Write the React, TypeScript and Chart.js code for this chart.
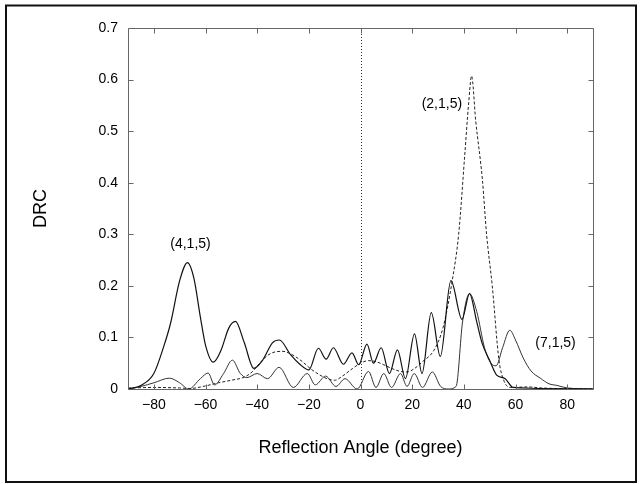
import React, { useEffect, useRef } from "react";
import { Chart, registerables } from "chart.js";

Chart.register(...registerables);

// ---------- data ----------
const X_TICKS = [-80, -60, -40, -20, 0, 20, 40, 60, 80];
const Y_TICKS = [0, 0.1, 0.2, 0.3, 0.4, 0.5, 0.6, 0.7];

// (4,1,5) solid
const ANGLE_415 = [-90, -85, -80, -76, -73.5, -70, -67, -64.5, -62, -60, -57, -54, -51, -48.4, -45, -41.3, -38, -34, -31.4, -27, -23.5, -20, -16.3, -13.3, -10.5, -6.6, -3.3, -0.7, 2.5, 5, 8, 11.2, 14.3, 17.4, 20.9, 23.8, 27.4, 30.9, 35, 39.3, 42.2, 45, 47, 50.2, 52.7, 56, 59, 62, 70, 90];
const DRC_415 = [0, 0.007, 0.03, 0.085, 0.128, 0.21, 0.245, 0.215, 0.14, 0.085, 0.052, 0.075, 0.118, 0.131, 0.09, 0.04, 0.055, 0.09, 0.095, 0.066, 0.048, 0.037, 0.079, 0.058, 0.08, 0.048, 0.07, 0.047, 0.087, 0.05, 0.08, 0.03, 0.076, 0.02, 0.107, 0.03, 0.148, 0.063, 0.21, 0.135, 0.185, 0.13, 0.09, 0.053, 0.027, 0.02, 0.003, 0.002, 0.001, 0];

// (2,1,5) dashed
const ANGLE_215 = [-90, -80, -70, -66, -60, -55, -50, -45, -42, -39, -36, -33, -30, -27, -23, -19, -16, -13, -10, -7, -3, 0, 3, 6, 9, 12, 15.5, 18, 21, 24, 28.4, 32, 35.5, 38, 40.3, 41.8, 43, 44.6, 47.2, 48.8, 51, 53.6, 55.6, 58, 65, 70, 90];
const DRC_215 = [0.002, 0.003, 0.002, 0.001, 0.006, 0.012, 0.017, 0.023, 0.033, 0.05, 0.065, 0.072, 0.073, 0.068, 0.055, 0.038, 0.028, 0.02, 0.017, 0.025, 0.04, 0.05, 0.055, 0.053, 0.047, 0.04, 0.034, 0.033, 0.04, 0.053, 0.075, 0.12, 0.21, 0.3, 0.45, 0.55, 0.607, 0.52, 0.405, 0.3, 0.2, 0.056, 0.015, 0.003, 0.004, 0.002, 0];

// (7,1,5) thin
const ANGLE_715 = [-90, -85, -80, -74, -70, -66.5, -62, -59, -56.5, -53, -49.6, -46.5, -44, -40, -36, -31.5, -26, -20.6, -17.5, -13.5, -9.5, -6, -1.3, 3.1, 6, 9, 12, 15.5, 18, 20.8, 24, 27.8, 31, 34, 37, 39.5, 42.2, 45, 48, 50.5, 52.5, 55, 57.8, 60, 63, 66, 69.6, 73, 76, 80, 90];
const DRC_715 = [0, 0.005, 0.012, 0.021, 0.012, 0, 0.02, 0.031, 0.008, 0.03, 0.056, 0.03, 0.022, 0.03, 0.02, 0.042, 0.003, 0.03, 0.008, 0.025, 0.005, 0.02, 0, 0.034, 0.003, 0.03, 0.003, 0.03, 0.005, 0.03, 0.003, 0.033, 0.005, 0, 0.005, 0.13, 0.185, 0.15, 0.08, 0.05, 0.045, 0.08, 0.114, 0.095, 0.06, 0.035, 0.021, 0.01, 0.007, 0.002, 0];

const LABEL_TEXT = ["(4,1,5)", "(2,1,5)", "(7,1,5)"];
const LABEL_X = [-65.8, 31.5, 75.5];
const LABEL_Y = [0.281, 0.553, 0.089];

const FONT = "'Liberation Sans', Arial, sans-serif";

const toPoints = (xs: number[], ys: number[]) => xs.map((x, i) => ({ x, y: ys[i] }));

const decorPlugin = {
  id: "decor",
  beforeDatasetsDraw(chart: any) {
    const { ctx, chartArea, scales } = chart;
    const x0 = Math.round(scales.x.getPixelForValue(0)) + 0.5;
    ctx.save();
    ctx.strokeStyle = "#333";
    ctx.lineWidth = 1;
    ctx.setLineDash([1, 2]);
    ctx.beginPath();
    ctx.moveTo(x0, chartArea.top);
    ctx.lineTo(x0, chartArea.bottom);
    ctx.stroke();
    ctx.restore();
  },
  afterDraw(chart: any) {
    const { ctx, chartArea, scales } = chart;
    const { left, right, top, bottom } = chartArea;
    ctx.save();
    // outer border
    ctx.strokeStyle = "#111";
    ctx.lineWidth = 2;
    ctx.strokeRect(6, 5.5, 630, 476.5);
    // frame
    ctx.strokeStyle = "#666";
    ctx.lineWidth = 1;
    const L = Math.round(left) + 0.5, R = Math.round(right) + 0.5;
    const T = Math.round(top) + 0.5, B = Math.round(bottom) + 0.5;
    ctx.beginPath();
    ctx.moveTo(L, T); ctx.lineTo(R, T); ctx.lineTo(R, B); ctx.lineTo(L, B); ctx.lineTo(L, T);
    ctx.stroke();
    const tl = 5;
    ctx.beginPath();
    X_TICKS.forEach((v) => {
      const px = Math.round(scales.x.getPixelForValue(v)) + 0.5;
      ctx.moveTo(px, T); ctx.lineTo(px, T + tl);
      ctx.moveTo(px, B); ctx.lineTo(px, B - tl);
    });
    Y_TICKS.forEach((v) => {
      const py = Math.round(scales.y.getPixelForValue(v)) + 0.5;
      ctx.moveTo(L, py); ctx.lineTo(L + tl, py);
      ctx.moveTo(R, py); ctx.lineTo(R - tl, py);
    });
    ctx.stroke();
    // curve labels
    ctx.fillStyle = "#000";
    ctx.font = `14px ${FONT}`;
    ctx.textAlign = "center";
    ctx.textBaseline = "middle";
    LABEL_TEXT.forEach((t, i) => {
      ctx.fillText(t, scales.x.getPixelForValue(LABEL_X[i]), scales.y.getPixelForValue(LABEL_Y[i]));
    });
    ctx.restore();
  },
};

export default function App() {
  const ref = useRef<HTMLCanvasElement | null>(null);
  useEffect(() => {
    document.body.style.margin = "0";
    const canvas = ref.current;
    if (!canvas) return;
    const common = {
      pointRadius: 0,
      fill: false,
      cubicInterpolationMode: "monotone" as const,
    };
    const chart = new Chart(canvas, {
      type: "line",
      data: {
        datasets: [
          { ...common, label: "(4,1,5)", data: toPoints(ANGLE_415, DRC_415), borderColor: "#111", borderWidth: 1.2 },
          { ...common, label: "(2,1,5)", data: toPoints(ANGLE_215, DRC_215), borderColor: "#222", borderWidth: 1, borderDash: [3, 2] },
          { ...common, label: "(7,1,5)", data: toPoints(ANGLE_715, DRC_715), borderColor: "#333", borderWidth: 1 },
        ],
      },
      options: {
        responsive: false,
        animation: false,
        events: [],
        layout: { padding: { left: 0, top: 28, right: 48, bottom: 0 } },
        plugins: { legend: { display: false }, tooltip: { enabled: false } },
        scales: {
          x: {
            type: "linear",
            min: -90,
            max: 90,
            afterBuildTicks: (s: any) => { s.ticks = X_TICKS.map((v) => ({ value: v })); },
            afterFit: (s: any) => { s.height = 95; },
            grid: { display: false, drawTicks: false },
            border: { display: false },
            ticks: {
              padding: 8,
              color: "#000",
              font: { family: FONT, size: 14 },
              callback: (v: any) => (v < 0 ? "\u2212" + Math.abs(v) : String(v)),
            },
            title: {
              display: true,
              text: "Reflection Angle (degree)",
              color: "#000",
              font: { family: FONT, size: 18 },
              padding: { top: 0, bottom: 25 },
            },
          },
          y: {
            type: "linear",
            min: 0,
            max: 0.7,
            afterBuildTicks: (s: any) => { s.ticks = Y_TICKS.map((v) => ({ value: v })); },
            afterFit: (s: any) => { s.width = 128; },
            grid: { display: false, drawTicks: false },
            border: { display: false },
            ticks: {
              padding: 10,
              color: "#000",
              font: { family: FONT, size: 14 },
              callback: (v: any) => (v === 0 ? "0" : Number(v).toFixed(1)),
            },
            title: {
              display: true,
              text: "DRC",
              color: "#000",
              font: { family: FONT, size: 18 },
              padding: { top: 30, bottom: 0 },
            },
          },
        },
      },
      plugins: [decorPlugin],
    });
    return () => chart.destroy();
  }, []);
  return (
    <div style={{ width: 641, height: 484 }}>
      <canvas ref={ref} width={641} height={484} style={{ display: "block" }} />
    </div>
  );
}
